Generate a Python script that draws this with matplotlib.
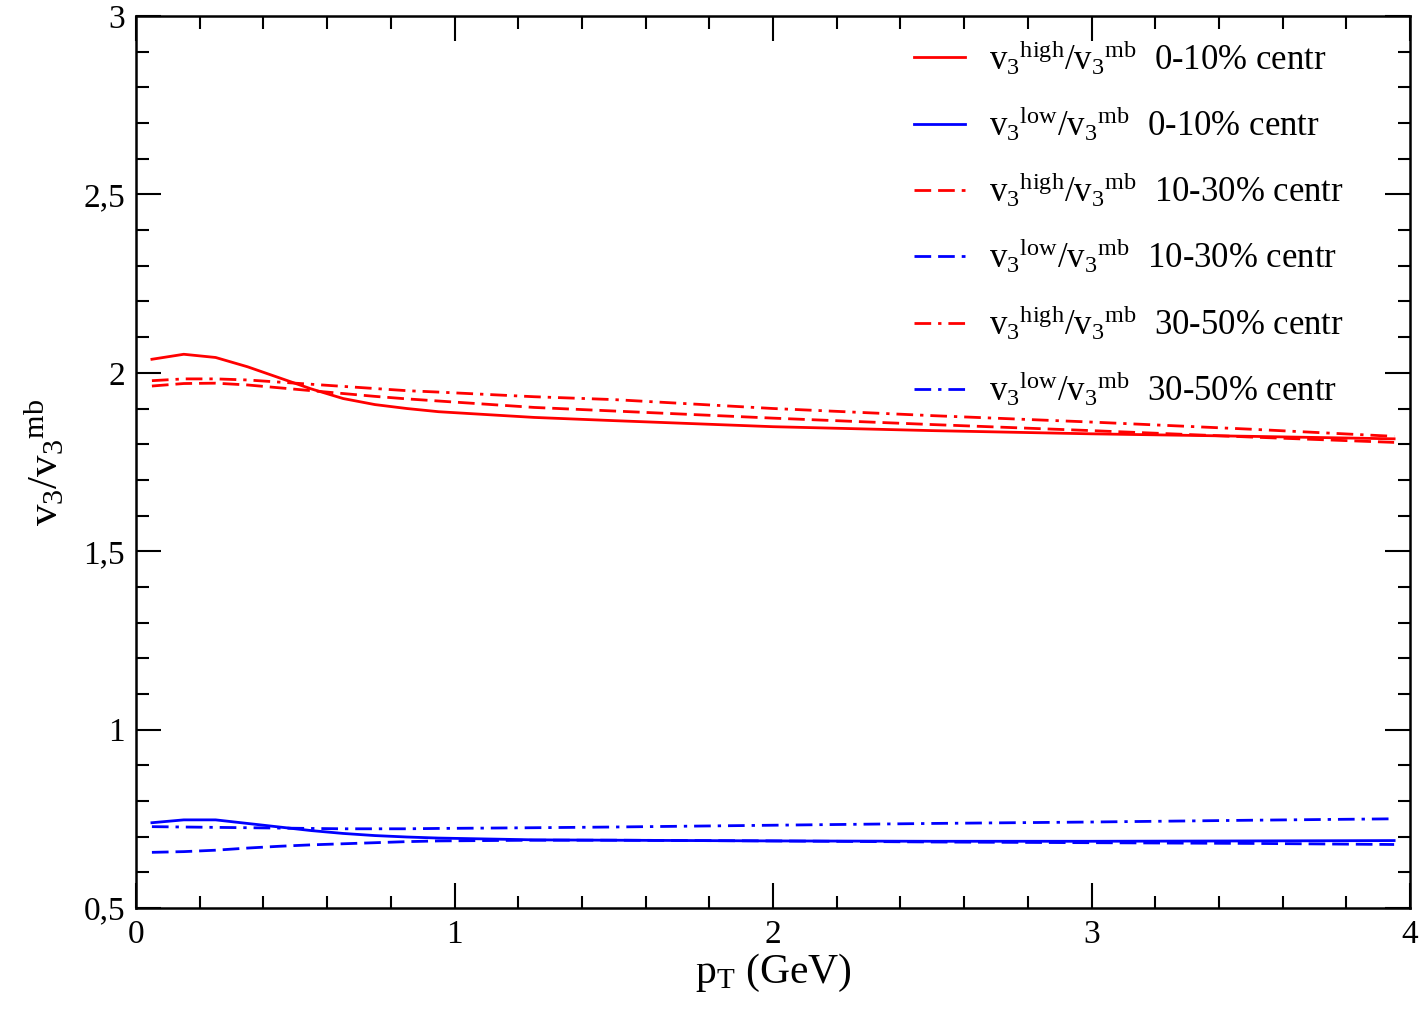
import matplotlib
matplotlib.use("Agg")
import matplotlib.pyplot as plt
from matplotlib.ticker import MultipleLocator, FuncFormatter

plt.rcParams["font.family"] = "Liberation Serif"
plt.rcParams["mathtext.fontset"] = "custom"
plt.rcParams["mathtext.rm"] = "Liberation Serif"
plt.rcParams["mathtext.it"] = "Liberation Serif"

# pT grid (GeV)
pt = [0.05, 0.15, 0.25, 0.35, 0.45, 0.55, 0.65, 0.75, 0.85, 0.95,
      1.25, 1.5, 2.0, 2.5, 3.0, 3.5, 3.95]

# v3 ratios
high_0_10 = [2.038, 2.052, 2.043, 2.017, 1.986, 1.955, 1.928, 1.911, 1.900, 1.891,
             1.875, 1.866, 1.849, 1.838, 1.829, 1.822, 1.815]
low_0_10 = [0.739, 0.747, 0.747, 0.737, 0.727, 0.717, 0.709, 0.703, 0.699, 0.696,
            0.691, 0.690, 0.688, 0.687, 0.687, 0.688, 0.689]
high_10_30 = [1.963, 1.970, 1.971, 1.966, 1.958, 1.950, 1.942, 1.934, 1.927, 1.921,
              1.903, 1.893, 1.873, 1.855, 1.838, 1.820, 1.805]
low_10_30 = [0.656, 0.658, 0.662, 0.668, 0.673, 0.677, 0.680, 0.683, 0.686, 0.688,
             0.690, 0.690, 0.688, 0.685, 0.683, 0.681, 0.678]
high_30_50 = [1.978, 1.983, 1.983, 1.980, 1.974, 1.968, 1.962, 1.956, 1.950, 1.946,
              1.933, 1.925, 1.900, 1.880, 1.862, 1.842, 1.822]
low_30_50 = [0.728, 0.727, 0.726, 0.725, 0.724, 0.723, 0.722, 0.722, 0.722, 0.723,
             0.725, 0.727, 0.732, 0.737, 0.741, 0.746, 0.750]

hi = r"$\mathrm{v_{3}{}^{high}/v_{3}{}^{mb}}$"
lo = r"$\mathrm{v_{3}{}^{low}/v_{3}{}^{mb}}$"

fig = plt.figure(figsize=(14.21, 10.09), dpi=100)
ax = fig.add_axes([0.0957, 0.1001, 0.8966, 0.8840])

lw = 2.0
dash = (0, (6, 2.5))
dashdot = (0, (6, 2.5, 1.2, 2.5))
ax.plot(pt, high_0_10, color="#ff0000", lw=lw, label=hi + "  0-10% centr")
ax.plot(pt, low_0_10, color="#0000ff", lw=lw, label=lo + "  0-10% centr")
ax.plot(pt, high_10_30, color="#ff0000", lw=lw, ls=dash, label=hi + "  10-30% centr")
ax.plot(pt, low_10_30, color="#0000ff", lw=lw, ls=dash, label=lo + "  10-30% centr")
ax.plot(pt, high_30_50, color="#ff0000", lw=lw, ls=dashdot, label=hi + "  30-50% centr")
ax.plot(pt, low_30_50, color="#0000ff", lw=lw, ls=dashdot, label=lo + "  30-50% centr")

ax.set_xlim(0, 4)
ax.set_ylim(0.5, 3)
ax.xaxis.set_major_locator(MultipleLocator(1))
ax.xaxis.set_minor_locator(MultipleLocator(0.2))
ax.yaxis.set_major_locator(MultipleLocator(0.5))
ax.yaxis.set_minor_locator(MultipleLocator(0.1))
ax.yaxis.set_major_formatter(FuncFormatter(lambda v, p: f"{v:g}".replace(".", ",")))
ax.tick_params(which="both", direction="in", top=True, right=True, width=1.5,
               labelsize=24, pad=8)
ax.tick_params(which="major", length=18)
ax.tick_params(which="minor", length=9)
for s in ax.spines.values():
    s.set_linewidth(1.8)

ax.set_xlabel(r"$\mathrm{p_{T}}$ (GeV)", fontsize=30, labelpad=2)
ax.set_ylabel(r"$\mathrm{v_{3}/v_{3}{}^{mb}}$", fontsize=31, labelpad=12)

ax.legend(loc="upper left", bbox_to_anchor=(0.611, 0.975), frameon=False,
          fontsize=25, handlelength=1.45, handletextpad=0.7, labelspacing=0.78,
          borderpad=0, borderaxespad=0)

fig.savefig("out.png", dpi=100)
